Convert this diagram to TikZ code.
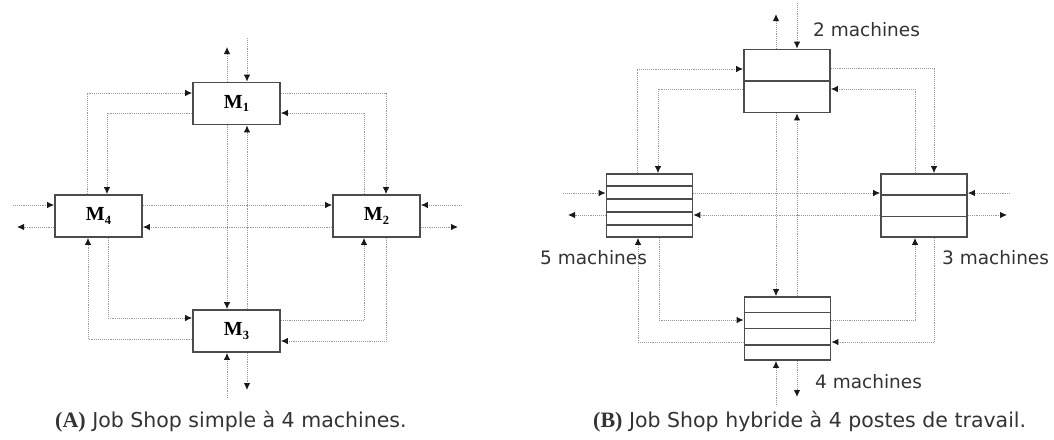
\documentclass[tikz,border=0pt]{standalone}
\usepackage{fontspec}
\setmainfont{DejaVu Sans}
\newfontfamily\serifb{Liberation Serif}
\usetikzlibrary{arrows.meta,calc}
\tikzset{
  conn/.style={draw=black!40, line width=0.9pt, densely dotted},
  arr/.style={conn, -{Latex[length=7pt,width=6.5pt,color=black!90]}},
  mbox/.style={draw=black!70, line width=1.8pt, fill=white, inner sep=0pt,
               minimum width=87pt, minimum height=42pt,
               font=\serifb\fontsize{20}{20}\selectfont\bfseries},
  hbox/.style={draw=black!70, line width=1.8pt, fill=white, inner sep=0pt,
               minimum width=86pt, minimum height=63pt},
  divl/.style={draw=black!70, line width=1.6pt},
  lbl/.style={font=\fontsize{18.5}{20}\selectfont, text=black!80, inner sep=0pt},
  captxt/.style={font=\fontsize{20.5}{22}\selectfont, text=black!80, inner sep=0pt},
}
\newcommand{\mlab}[1]{M\raisebox{-0.35ex}{\fontsize{12.5}{12.5}\selectfont #1}}
\begin{document}
\begin{tikzpicture}[x=1pt,y=-1pt]
\useasboundingbox (0,0) rectangle (1054,439);
% ---------------- (A) ----------------
\node[mbox] (M1) at (236.5,103.5) {\mlab{1}};
\node[mbox] (M4) at (98.5,216) {\mlab{4}};
\node[mbox] (M2) at (376.5,216) {\mlab{2}};
\node[mbox] (M3) at (236.5,331) {\mlab{3}};
\coordinate (a1) at (227,47);
\coordinate (a2) at (247,38);
\coordinate (a3) at (227,398);
\coordinate (a4) at (247,390);
\coordinate (a5) at (13,205);
\coordinate (a6) at (17,227);
\coordinate (a7) at (462,205);
\coordinate (a8) at (458,227);
% verticals
\draw[arr] (M1.north -| a1) -- (a1);
\draw[arr] (a2) -- (M1.north -| a2);
\draw[arr] (M1.south -| a1) -- (M3.north -| a1);
\draw[arr] (M3.north -| a2) -- (M1.south -| a2);
\draw[arr] (a3) -- (M3.south -| a3);
\draw[arr] (M3.south -| a4) -- (a4);
% horizontals
\draw[arr] (a5) -- (M4.west |- a5);
\draw[arr] (M4.east |- a5) -- (M2.west |- a5);
\draw[arr] (a7) -- (M2.east |- a7);
\draw[arr] (M4.west |- a6) -- (a6);
\draw[arr] (M2.west |- a6) -- (M4.east |- a6);
\draw[arr] (M2.east |- a8) -- (a8);
% loops
\draw[arr] (87,0 |- M4.north) |- (M1.west |- 0,93);
\draw[arr] (M1.west |- 0,113) -| (107,0 |- M4.north);
\draw[arr] (M1.east |- 0,93) -| (386,0 |- M2.north);
\draw[arr] (364,0 |- M2.north) |- (M1.east |- 0,113);
\draw[arr] (M3.west |- 0,339) -| (88,0 |- M4.south);
\draw[arr] (108,0 |- M4.south) |- (M3.west |- 0,318);
\draw[arr] (M3.east |- 0,320) -| (364,0 |- M2.south);
\draw[arr] (386,0 |- M2.south) |- (M3.east |- 0,341);
\node[captxt, anchor=base west] (capA) at (55,427)
  {{\serifb\bfseries\fontsize{22}{22}\selectfont (A)} Job Shop simple à 4 machines.};
% ---------------- (B) ----------------
\node[hbox] (T) at (787,81) {};
\node[hbox] (L) at (649.5,205.5) {};
\node[hbox] (R) at (924,205.5) {};
\node[hbox] (B) at (787.5,328.5) {};
\draw[divl] ($(T.north west)!0.5!(T.south west)$) -- ($(T.north east)!0.5!(T.south east)$);
\foreach \f in {0.2,0.4,0.6,0.8}
  \draw[divl] ($(L.north west)!\f!(L.south west)$) -- ($(L.north east)!\f!(L.south east)$);
\foreach \f in {0.3333,0.6667}
  \draw[divl] ($(R.north west)!\f!(R.south west)$) -- ($(R.north east)!\f!(R.south east)$);
\foreach \f in {0.25,0.5,0.75}
  \draw[divl] ($(B.north west)!\f!(B.south west)$) -- ($(B.north east)!\f!(B.south east)$);
\coordinate (b1) at (776,14);
\coordinate (b2) at (797,3);
\coordinate (b3) at (776,405);
\coordinate (b4) at (797,397);
\coordinate (b5) at (563,193);
\coordinate (b6) at (568,215);
\coordinate (b7) at (1010,193);
\coordinate (b8) at (1007,215);
% verticals
\draw[arr] (T.north -| b1) -- (b1);
\draw[arr] (b2) -- (T.north -| b2);
\draw[arr] (T.south -| b1) -- (B.north -| b1);
\draw[arr] (B.north -| b2) -- (T.south -| b2);
\draw[arr] (b3) -- (B.south -| b3);
\draw[arr] (B.south -| b4) -- (b4);
% horizontals
\draw[arr] (b5) -- (L.west |- b5);
\draw[arr] (L.east |- b5) -- (R.west |- b5);
\draw[arr] (b7) -- (R.east |- b7);
\draw[arr] (L.west |- b6) -- (b6);
\draw[arr] (R.west |- b6) -- (L.east |- b6);
\draw[arr] (R.east |- b8) -- (b8);
% loops
\draw[arr] (637,0 |- L.north) |- (T.west |- 0,69);
\draw[arr] (T.west |- 0,89) -| (658,0 |- L.north);
\draw[arr] (T.east |- 0,68) -| (934,0 |- R.north);
\draw[arr] (915,0 |- R.north) |- (T.east |- 0,89);
\draw[arr] (B.west |- 0,342) -| (638,0 |- L.south);
\draw[arr] (659,0 |- L.south) |- (B.west |- 0,320);
\draw[arr] (B.east |- 0,320) -| (915,0 |- R.south);
\draw[arr] (934,0 |- R.south) |- (B.east |- 0,342);
% labels
\node[lbl, anchor=west] (l2) at (813,30) {2 machines};
\node[lbl, anchor=west] (l5) at (540,258) {5 machines};
\node[lbl, anchor=west] (l3) at (942,258) {3 machines};
\node[lbl, anchor=west] (l4) at (815,382) {4 machines};
\node[captxt, anchor=base west] (capB) at (593,427)
  {{\serifb\bfseries\fontsize{22}{22}\selectfont (B)} Job Shop hybride à 4 postes de travail.};
\end{tikzpicture}
\end{document}
